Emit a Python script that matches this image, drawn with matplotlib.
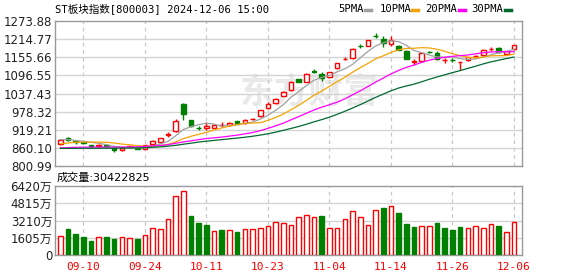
import matplotlib
matplotlib.use("Agg")
import matplotlib.pyplot as plt
from matplotlib.lines import Line2D

# ---- data (ST板块指数 800003, daily) ----
dates = ["09-05", "09-06", "09-09", "09-10", "09-11", "09-12", "09-13", "09-18", "09-19", "09-20",
         "09-23", "09-24", "09-25", "09-26", "09-27", "09-30", "10-08", "10-09", "10-10", "10-11",
         "10-14", "10-15", "10-16", "10-17", "10-18", "10-21", "10-22", "10-23", "10-24", "10-25",
         "10-28", "10-29", "10-30", "10-31", "11-01", "11-04", "11-05", "11-06", "11-07", "11-08",
         "11-11", "11-12", "11-13", "11-14", "11-15", "11-18", "11-19", "11-20", "11-21", "11-22",
         "11-25", "11-26", "11-27", "11-28", "11-29", "12-02", "12-03", "12-04", "12-05", "12-06"]

opens = [872.5, 891.0, 883.3, 879.0, 870.3, 864.9, 869.2, 859.5, 851.9, 861.7,
         860.6, 857.3, 872.5, 877.9, 901.8, 915.9, 1003.8, 951.7, 924.7, 924.6,
         925.7, 934.3, 933.3, 946.3, 940.9, 954.9, 963.6, 989.7, 1005.9, 1030.9,
         1049.3, 1085.2, 1076.5, 1109.2, 1101.4, 1090.6, 1119.9, 1150.2, 1152.4, 1192.7,
         1193.7, 1226.3, 1215.4, 1199.1, 1193.7, 1176.3, 1141.6, 1144.8, 1172.1, 1168.7,
         1147.0, 1147.3, 1139.4, 1147.0, 1160.0, 1162.2, 1182.8, 1185.0, 1165.5, 1181.7]
highs = [888.0, 896.0, 884.5, 880.0, 871.0, 871.4, 873.6, 860.5, 860.0, 866.0,
         862.0, 869.0, 886.6, 893.0, 910.5, 953.9, 1005.0, 952.5, 931.1, 943.0,
         935.5, 943.0, 943.0, 948.0, 953.9, 958.2, 985.0, 1008.1, 1024.0, 1044.0,
         1078.0, 1086.0, 1103.0, 1116.6, 1109.0, 1108.5, 1137.5, 1155.7, 1185.0, 1198.0,
         1213.5, 1233.8, 1225.1, 1225.1, 1196.5, 1178.0, 1149.2, 1170.0, 1176.3, 1176.3,
         1152.4, 1152.4, 1139.8, 1158.0, 1163.3, 1181.0, 1188.2, 1190.4, 1177.0, 1197.0]
lows = [871.0, 884.0, 872.5, 872.5, 863.0, 863.0, 863.8, 845.4, 850.0, 860.0,
        855.0, 856.0, 871.0, 877.0, 895.3, 910.5, 949.5, 929.0, 918.1, 919.0,
        924.0, 926.7, 931.0, 937.0, 937.6, 949.5, 962.0, 988.0, 1004.0, 1029.0,
        1047.0, 1075.0, 1075.0, 1103.6, 1078.7, 1089.0, 1118.5, 1145.9, 1149.0, 1185.0,
        1192.0, 1217.5, 1190.4, 1193.7, 1178.0, 1149.0, 1130.7, 1143.0, 1168.7, 1147.0,
        1136.2, 1141.6, 1114.5, 1145.0, 1152.4, 1160.0, 1177.4, 1170.9, 1164.0, 1180.0]
closes = [886.6, 885.5, 880.1, 875.8, 864.9, 868.2, 864.9, 851.9, 859.5, 864.9,
          857.3, 868.2, 882.3, 892.0, 906.1, 948.4, 970.1, 930.0, 924.4, 929.9,
          934.3, 934.6, 941.9, 938.7, 949.5, 955.2, 984.3, 1003.8, 1021.1, 1040.7,
          1076.5, 1076.5, 1101.4, 1108.9, 1087.3, 1106.9, 1136.2, 1150.5, 1181.7, 1192.4,
          1212.1, 1226.0, 1203.4, 1212.1, 1179.5, 1151.3, 1141.9, 1168.7, 1171.8, 1150.3,
          1147.3, 1147.0, 1139.7, 1156.8, 1160.3, 1179.6, 1183.1, 1172.0, 1176.3, 1195.8]

ma5 = [887.0, 887.0, 884.5, 881.5, 878.6, 874.9, 870.8, 865.1, 861.9, 861.9,
       859.7, 860.4, 866.4, 872.9, 881.2, 899.4, 919.8, 929.3, 935.8, 940.6,
       937.7, 930.6, 933.0, 935.9, 939.8, 944.0, 953.9, 966.3, 982.8, 1001.0,
       1025.3, 1043.7, 1063.2, 1080.8, 1090.1, 1096.2, 1108.1, 1118.0, 1132.5, 1153.5,
       1174.6, 1192.5, 1203.1, 1209.2, 1206.6, 1194.5, 1177.6, 1170.7, 1162.6, 1156.8,
       1156.0, 1157.0, 1151.2, 1148.2, 1150.2, 1156.7, 1163.9, 1170.4, 1174.3, 1181.4]
ma10 = [873.0, 876.0, 878.5, 879.0, 879.0, 879.0, 878.5, 876.0, 872.5, 870.2,
        867.3, 865.6, 865.8, 867.4, 871.5, 879.6, 890.1, 897.9, 904.4, 910.9,
        918.6, 925.2, 931.2, 935.8, 940.2, 940.9, 942.3, 949.7, 959.3, 970.4,
        984.6, 998.8, 1014.8, 1031.8, 1045.6, 1060.7, 1075.9, 1090.6, 1106.7, 1121.8,
        1135.4, 1150.3, 1160.5, 1170.9, 1180.1, 1184.5, 1185.1, 1186.9, 1185.9, 1181.7,
        1175.2, 1167.3, 1161.0, 1155.4, 1153.5, 1156.3, 1160.5, 1160.8, 1161.2, 1165.8]
ma20 = [860.0, 861.0, 862.0, 862.5, 862.5, 862.7, 862.7, 862.5, 862.7, 863.0,
        863.5, 865.0, 866.5, 868.0, 870.5, 875.0, 879.5, 883.0, 887.0, 890.6,
        892.9, 895.4, 898.5, 901.6, 905.9, 910.2, 916.2, 923.8, 931.9, 940.6,
        951.6, 962.0, 973.0, 983.8, 992.9, 1000.8, 1009.1, 1020.1, 1033.0, 1046.1,
        1060.0, 1074.6, 1087.7, 1101.3, 1112.8, 1122.6, 1130.5, 1138.8, 1146.3, 1151.8,
        1155.3, 1158.8, 1160.8, 1163.1, 1166.8, 1170.4, 1172.8, 1173.9, 1173.6, 1173.8]
ma30 = [858.5, 858.5, 858.6, 858.8, 858.8, 859.0, 859.0, 859.0, 859.3, 859.6,
        860.0, 860.5, 862.0, 863.5, 865.5, 868.5, 872.0, 875.5, 879.0, 882.0,
        884.5, 887.0, 889.5, 892.0, 894.8, 898.0, 901.8, 906.2, 911.3, 917.2,
        923.5, 929.9, 937.2, 945.0, 952.4, 960.4, 969.4, 979.4, 990.1, 1001.0,
        1012.9, 1024.8, 1035.5, 1046.2, 1055.3, 1062.0, 1067.8, 1075.7, 1084.0, 1091.3,
        1098.4, 1105.5, 1112.1, 1119.4, 1126.4, 1133.9, 1140.5, 1146.1, 1151.3, 1156.4]

# volume in 万 (10k)
volume = [1770, 2420, 1950, 1675, 1300, 1640, 1675, 1490, 1640, 1550,
          1490, 1860, 2480, 2390, 3320, 5490, 5920, 3630, 2980, 2790,
          2200, 2330, 2290, 2140, 2390, 2390, 2480, 2670, 3040, 2950,
          2760, 3500, 3690, 3500, 3630, 2480, 2480, 3320, 4060, 3500,
          2760, 4160, 4370, 4530, 3910, 2880, 2600, 2670, 2670, 2980,
          2510, 2330, 2600, 2480, 2670, 2480, 2850, 2700, 2110, 3042]
# 1 = red (up) volume bar, 0 = green
vol_up = [1, 0, 0, 0, 0, 1, 0, 0, 1, 1,
          0, 1, 1, 1, 1, 1, 1, 0, 0, 0,
          1, 0, 1, 0, 1, 1, 1, 1, 1, 1,
          1, 1, 1, 1, 0, 1, 1, 1, 1, 1,
          1, 1, 0, 1, 0, 0, 0, 1, 1, 0,
          0, 0, 0, 1, 1, 1, 1, 0, 1, 1]

price_ticks = [800.99, 860.10, 919.21, 978.32, 1037.43, 1096.55, 1155.66, 1214.77, 1273.88]
vol_ticks = [0, 1605, 3210, 4815, 6420]
vol_labels = ["0", "1605万", "3210万", "4815万", "6420万"]
date_ticks = ["09-10", "09-24", "10-11", "10-23", "11-04", "11-14", "11-26", "12-06"]

title = "ST板块指数[800003] 2024-12-06 15:00"
vol_title = "成交量:30422825"
ma_names = ["5PMA", "10PMA", "20PMA", "30PMA"]
ma_colors = ["#a0a0a0", "#f5a300", "#ff00ff", "#006a30"]

RED = "#ff0000"
GREEN = "#008000"
GRID = "#d4d4d4"
FRAME = "#999999"
CJK = ["DejaVu Sans", "Noto Sans CJK SC"]
MONO = ["DejaVu Sans Mono", "Noto Sans CJK SC"]

W, H = 578, 276


def fx(px):
    return px / W


def fy(py):
    return 1 - py / H


fig = plt.figure(figsize=(W / 100, H / 100), dpi=100)
fig.patch.set_facecolor("white")

ax = fig.add_axes([fx(55), fy(166), fx(522) - fx(55), fy(21) - fy(166)])
axv = fig.add_axes([fx(55), fy(255), fx(522) - fx(55), fy(186) - fy(255)])

n = len(closes)
x = list(range(n))
tick_pos = [dates.index(d) for d in date_ticks]

for a in (ax, axv):
    a.set_xlim(-0.69, n + 0.04)
    for s in a.spines.values():
        s.set_color(FRAME)
        s.set_linewidth(1.0)
    a.tick_params(length=0)
    for p in tick_pos:
        a.axvline(p, color="#c8c8c8", lw=0.9, ls=(0, (3, 3)), zorder=1)

# ---- price panel ----
ax.set_ylim(price_ticks[0], price_ticks[-1])
ax.set_yticks(price_ticks)
ax.set_yticklabels(["%.2f" % t for t in price_ticks], fontsize=8.5, color="#222222")
ax.tick_params(axis="y", pad=2)
ax.set_xticks([])
for t in price_ticks[1:-1]:
    ax.axhline(t, color=GRID, lw=1.0, zorder=1)

# watermark
ax.text(0.545, 0.505, "东方财富", transform=ax.transAxes, ha="center", va="center",
        fontsize=25, fontweight="bold", color="#e9e9e9", family=CJK, zorder=0.5)

for i in x:
    o, h, l, c = opens[i], highs[i], lows[i], closes[i]
    up = c >= o
    col = RED if up else GREEN
    top, bot = max(o, c), min(o, c)
    body = max(top - bot, 0.4)
    ax.bar(i, body, bottom=bot, width=0.6, facecolor="white" if up else col,
           edgecolor=col, linewidth=1.0, zorder=3)
    ax.vlines(i, top, h, color=col, lw=1.0, zorder=3)
    ax.vlines(i, l, bot, color=col, lw=1.0, zorder=3)

for vals, col in zip([ma5, ma10, ma20, ma30], ma_colors):
    ax.plot(x, vals, color=col, lw=0.9, zorder=4)

# ---- volume panel ----
axv.set_ylim(0, vol_ticks[-1])
axv.set_yticks(vol_ticks)
axv.set_yticklabels(vol_labels, fontsize=8.5, color="#222222", family=CJK)
axv.tick_params(axis="y", pad=2)
for t in vol_ticks[1:-1]:
    axv.axhline(t, color=GRID, lw=1.0, zorder=1)
for i in x:
    col = RED if vol_up[i] else GREEN
    axv.bar(i, volume[i], width=0.6, facecolor="white" if vol_up[i] else col,
            edgecolor=col, linewidth=1.0, zorder=3)
axv.set_xticks(tick_pos)
axv.set_xticklabels(date_ticks, fontsize=8, color=RED, family=MONO)
axv.tick_params(axis="x", pad=5)

# ---- header texts ----
fig.text(fx(55), fy(8.5), title, fontsize=7.6, family=MONO, va="center", ha="left")
fig.text(fx(57), fy(178), vol_title, fontsize=8, family=CJK, va="center", ha="left")

label_x = [338, 380, 425, 471]
dash_x = [365, 412, 459, 505]
for name, col, lx, dx in zip(ma_names, ma_colors, label_x, dash_x):
    fig.text(fx(lx), fy(9), name, fontsize=7.6, family=MONO, va="center", ha="left")
    fig.add_artist(Line2D([fx(dx), fx(dx + 6)], [fy(9.5), fy(9.5)],
                          transform=fig.transFigure, color=col, lw=2.5))

fig.savefig("out.png", dpi=100)
